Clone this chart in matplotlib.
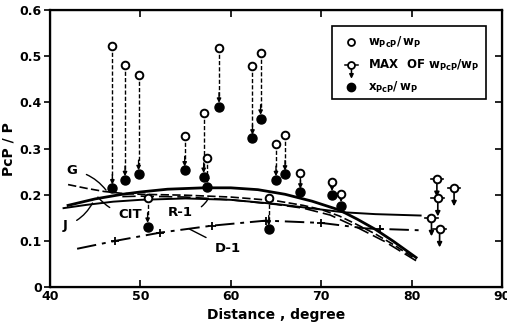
import matplotlib
matplotlib.use("Agg")
import matplotlib.pyplot as plt
from matplotlib.patches import Rectangle

# PcP/P amplitude ratios versus distance

# observed pairs: open circle = w_PcP/w_P, filled circle = x_PcP/w_P
obs_dist = [46.9, 48.3, 49.8, 50.8, 54.9, 57.0, 57.4, 58.7, 62.4, 63.3, 64.2, 65.0, 66.0, 67.7, 71.2, 72.2]
w_ratio = [0.522, 0.480, 0.460, 0.193, 0.328, 0.376, 0.279, 0.518, 0.478, 0.508, 0.192, 0.309, 0.329, 0.248, 0.228, 0.202]
x_ratio = [0.214, 0.232, 0.245, 0.131, 0.253, 0.239, 0.217, 0.391, 0.322, 0.365, 0.125, 0.232, 0.244, 0.205, 0.200, 0.176]

# upper limits (maximum of w_PcP/w_P)
max_dist = [82.8, 82.9, 84.7, 82.2, 83.1]
max_ratio = [0.235, 0.193, 0.215, 0.150, 0.126]

# theoretical curves
g_x = [42, 44, 46, 48, 50, 55, 60, 65, 68, 70, 72, 74, 76, 78, 80.5]
g_y = [0.222, 0.214, 0.207, 0.203, 0.201, 0.199, 0.195, 0.187, 0.177, 0.168, 0.154, 0.135, 0.115, 0.092, 0.060]

cit_x = [42, 45, 48, 50, 53, 57, 60, 63, 66, 69, 72, 74, 76, 78, 80.5]
cit_y = [0.177, 0.191, 0.201, 0.206, 0.212, 0.215, 0.215, 0.211, 0.201, 0.186, 0.167, 0.147, 0.125, 0.099, 0.064]

j_x = [41.5, 44, 47, 50, 55, 60, 65, 70, 72.5, 76, 81]
j_y = [0.171, 0.178, 0.185, 0.189, 0.192, 0.189, 0.180, 0.168, 0.162, 0.158, 0.155]

r1_x = [48, 50, 55, 60, 65, 68, 71, 74, 77, 80.5]
r1_y = [0.196, 0.197, 0.195, 0.189, 0.179, 0.171, 0.156, 0.129, 0.099, 0.057]

d1_x = [43, 47.2, 52.2, 57.9, 63.9, 70, 75, 76.5, 81]
d1_y = [0.083, 0.100, 0.118, 0.133, 0.144, 0.139, 0.127, 0.126, 0.123]
d1_marks = [1, 2, 3, 4, 5, 7]

x_ticks = [40, 50, 60, 70, 80, 90]
y_ticks = [0, 0.1, 0.2, 0.3, 0.4, 0.5, 0.6]
y_labels = ["0", "0.1", "0.2", "0.3", "0.4", "0.5", "0.6"]

plt.rcParams['font.family'] = ['DejaVu Sans']
plt.rcParams['font.weight'] = 'bold'

fig = plt.figure(figsize=(5.07, 3.35), dpi=100)
ax = fig.add_axes([0.0986, 0.143, 0.8915, 0.827])
ax.set_xlim(40, 90)
ax.set_ylim(0, 0.6)

# curves
ax.plot(g_x, g_y, color='black', lw=1.2, ls=(0, (5, 2)))
ax.plot(cit_x, cit_y, color='black', lw=2.0)
ax.plot(j_x, j_y, color='black', lw=1.4)
ax.plot(r1_x, r1_y, color='black', lw=1.2, ls=(0, (8, 3)))
ax.plot(d1_x, d1_y, color='black', lw=1.4, ls=(0, (10, 3, 2, 3)))
ax.plot([d1_x[i] for i in d1_marks], [d1_y[i] for i in d1_marks], '+',
        color='black', ms=6, mew=1.3)

# curve labels with leader lines
def label(text, xy, xytext, rad=0.0):
    ax.annotate(text, xy=xy, xytext=xytext, fontsize=9.5, fontweight='bold',
                ha='center', va='center',
                arrowprops=dict(arrowstyle='-', lw=1.0, color='black',
                                shrinkA=5, shrinkB=0,
                                connectionstyle='arc3,rad=%s' % rad))

label('G', (46.2, 0.210), (42.4, 0.253), rad=-0.2)
label('J', (44.7, 0.182), (41.7, 0.133), rad=0.2)
label('CIT', (45.3, 0.195), (48.9, 0.157), rad=-0.2)
label('R-1', (57.4, 0.188), (54.4, 0.162), rad=0.3)
label('D-1', (55.4, 0.126), (59.7, 0.083), rad=0.0)

# observed pairs
for d, w, xr in zip(obs_dist, w_ratio, x_ratio):
    ax.plot([d, d], [w, xr + 0.02], color='black', lw=1.0, ls=(0, (3, 1.5)))
    ax.annotate('', xy=(d, xr + 0.008), xytext=(d, xr + 0.03),
                arrowprops=dict(arrowstyle='-|>', color='black', lw=1.0,
                                mutation_scale=6, shrinkA=0, shrinkB=0))
ax.plot(obs_dist, x_ratio, 'o', color='black', ms=6.5, zorder=4)
ax.plot(obs_dist, w_ratio, 'o', mfc='white', mec='black', mew=1.4, ms=5.5, zorder=5)

# upper limits
for d, m in zip(max_dist, max_ratio):
    ax.plot([d - 0.7, d + 0.7], [m, m], color='black', lw=1.2)
    ax.annotate('', xy=(d, m - 0.04), xytext=(d, m),
                arrowprops=dict(arrowstyle='-|>', color='black', lw=1.2,
                                mutation_scale=7, shrinkA=3, shrinkB=0))
ax.plot(max_dist, max_ratio, 'o', mfc='white', mec='black', mew=1.4, ms=5.5, zorder=5)

# legend box
ax.add_patch(Rectangle((0.625, 0.68), 0.339, 0.264, transform=ax.transAxes,
                       fill=False, lw=1.2, color='black'))
ax.plot([0.667], [0.884], 'o', mfc='white', mec='black', mew=1.3, ms=5,
        transform=ax.transAxes)
ax.plot([0.652, 0.682], [0.80, 0.80], color='black', lw=1.1, transform=ax.transAxes)
ax.plot([0.667], [0.80], 'o', mfc='white', mec='black', mew=1.3, ms=5,
        transform=ax.transAxes)
ax.annotate('', xy=(0.667, 0.752), xytext=(0.667, 0.795), xycoords='axes fraction',
            arrowprops=dict(arrowstyle='-|>', color='black', lw=1.1,
                            mutation_scale=6, shrinkA=2, shrinkB=0))
ax.plot([0.667], [0.722], 'o', color='black', ms=6, transform=ax.transAxes)
ax.text(0.703, 0.884, r'$\mathbf{w_{PcP}/\,w_P}$', transform=ax.transAxes,
        fontsize=8.5, va='center')
ax.text(0.703, 0.800, 'MAX  OF ' + r'$\mathbf{w_{PcP}/w_P}$', transform=ax.transAxes,
        fontsize=8.5, va='center')
ax.text(0.703, 0.722, r'$\mathbf{x_{PcP}/\,w_P}$', transform=ax.transAxes,
        fontsize=8.5, va='center')

# axes styling
ax.set_xticks(x_ticks)
ax.set_yticks(y_ticks)
ax.set_yticklabels(y_labels)
ax.tick_params(axis='x', direction='in', length=5, width=1.2, labelsize=9, pad=2)
ax.tick_params(axis='y', direction='out', length=4, width=1.2, labelsize=9, pad=2)
for s in ax.spines.values():
    s.set_linewidth(1.6)

ax2 = ax.twinx()
ax2.set_ylim(0, 0.6)
ax2.set_yticks(y_ticks)
ax2.tick_params(axis='y', direction='in', length=5, width=1.2, labelright=False)
ax3 = ax.twiny()
ax3.set_xlim(40, 90)
ax3.set_xticks(x_ticks)
ax3.tick_params(axis='x', direction='in', length=5, width=1.2, labeltop=False)

ax.set_xlabel('Distance , degree', fontsize=10, fontweight='bold', labelpad=4)
ax.set_ylabel('PcP / P', fontsize=10, fontweight='bold', labelpad=3)

fig.savefig('out.png', dpi=100)
